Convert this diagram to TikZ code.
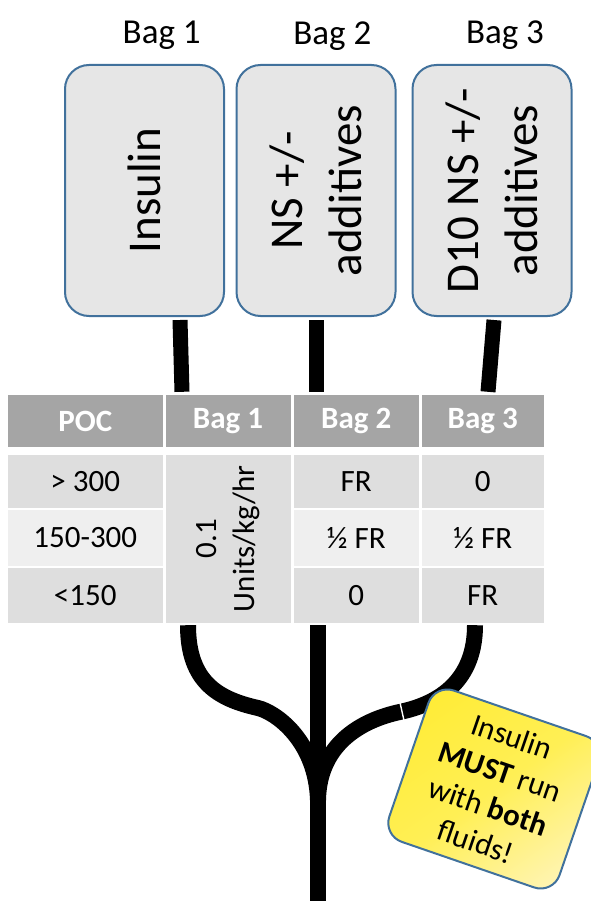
\documentclass[tikz,border=0pt]{standalone}
\usepackage{fontspec}
\setmainfont{Carlito}
\usetikzlibrary{calc}

\definecolor{bagfill}{HTML}{E6E6E6}
\definecolor{bagline}{HTML}{41719C}
\definecolor{headfill}{HTML}{A5A5A5}
\definecolor{banddark}{HTML}{DEDEDE}
\definecolor{bandlight}{HTML}{EFEFEF}
\definecolor{noteA}{HTML}{FFEC38}
\definecolor{noteB}{HTML}{FFEF55}
\definecolor{noteC}{HTML}{FFF4AE}

\begin{document}
\begin{tikzpicture}[x=1pt,y=-1pt,
  baglabel/.style={anchor=base, inner sep=0pt, font=\fontsize{35}{42}\selectfont},
  bagbox/.style={draw=bagline, line width=2pt, fill=bagfill, rounded corners=24pt,
    rotate=90, minimum width=251pt, minimum height=159pt, inner sep=0pt,
    align=center, font=\fontsize{47}{59}\selectfont},
  cell/.style={inner sep=0pt, align=center, font=\fontsize{31}{38}\selectfont},
  headcell/.style={cell, fill=headfill, text=white, minimum height=52pt,
    font=\fontsize{31}{38}\selectfont\bfseries},
  darkcell/.style={cell, fill=banddark},
  lightcell/.style={cell, fill=bandlight},
  feed/.style={line width=15pt, line cap=butt, black},
  tube/.style={line width=16pt, line cap=butt, black},
  seam/.style={white, line width=1.4pt},
  note/.style={draw=bagline, line width=2pt, rounded corners=20pt,
    top color=noteA, bottom color=noteC, middle color=noteB, shading angle=35,
    minimum width=180pt, minimum height=160pt, inner sep=0pt, align=center,
    font=\fontsize{31}{37}\selectfont}
]
\useasboundingbox (0,0) rectangle (590,901);

% bag labels
\node[baglabel] (lab1) at (161.7,43.3) {Bag 1};
\node[baglabel] (lab2) at (332.3,45.0) {Bag 2};
\node[baglabel] (lab3) at (505.0,43.8) {Bag 3};

% the three bags
\node[bagbox] (b1) at (144.5,190.5) {Insulin};
\node[bagbox] (b2) at (316,190.5) {NS +/-\\additives};
\node[bagbox] (b3) at (492,190.5) {D10 NS +/-\\additives};

% dosing table: header row
\node[headcell, minimum width=154.5pt] (h0) at (85.25,421) {POC};
\node[headcell, minimum width=125pt]   (h1) at (228,421) {Bag 1};
\node[headcell, minimum width=125.5pt] (h2) at (356.25,421) {Bag 2};
\node[headcell, minimum width=121.5pt] (h3) at (482.75,421) {Bag 3};

% POC column
\node[darkcell,  minimum width=154.5pt, minimum height=52.7pt] (r1c0) at (85.25,481.35) {> 300};
\node[lightcell, minimum width=154.5pt, minimum height=55.4pt] (r2c0) at (85.25,538) {150-300};
\node[darkcell,  minimum width=154.5pt, minimum height=54.4pt] (r3c0) at (85.25,595.5) {<150};

% insulin rate, spanning all rows
\node[darkcell, rotate=90, minimum width=167.7pt, minimum height=125pt] (mid) at (228,538.85) {0.1\\Units/kg/hr};

% Bag 2 column
\node[darkcell,  minimum width=125.5pt, minimum height=52.7pt] (r1c2) at (356.25,481.35) {FR};
\node[lightcell, minimum width=125.5pt, minimum height=55.4pt] (r2c2) at (356.25,538) {½ FR};
\node[darkcell,  minimum width=125.5pt, minimum height=54.4pt] (r3c2) at (356.25,595.5) {0};

% Bag 3 column
\node[darkcell,  minimum width=121.5pt, minimum height=52.7pt] (r1c3) at (482.75,481.35) {0};
\node[lightcell, minimum width=121.5pt, minimum height=55.4pt] (r2c3) at (482.75,538) {½ FR};
\node[darkcell,  minimum width=121.5pt, minimum height=54.4pt] (r3c3) at (482.75,595.5) {FR};

% feed lines from the bags into the table
\draw[feed] ($(b1.west)+(35.5,3)$) -- ($(h1.north)+(-46,-3)$);
\draw[feed] ($(b2.west)+(0,3)$) -- ($(h2.north)+(-40.25,-3)$);
\draw[feed] ($(b3.west)+(2,3)$) -- ($(h3.north)+(5.25,-3)$);

% tubing below the table, joining into one line
\coordinate (lt) at ($(mid.west)+(-40,2.3)$);
\coordinate (ct) at ($(r3c2.south)+(-38.25,2.3)$);
\coordinate (rt) at ($(r3c3.south)+(-7.75,2.3)$);
\coordinate (lj) at (258,708);
\coordinate (rj) at (402,711.5);
\coordinate (mg) at (318,800);
\coordinate (out) at (318,901);

\draw[tube] (ct) -- (out);
\draw[tube] (lt) .. controls (188,682) and (218,699) .. (lj)
               .. controls (275,712) and (316,740) .. (mg);
\draw[tube] (rt) .. controls (475,680) and (440,703) .. (rj)
               .. controls (360,720) and (319,745) .. (mg);
\draw[seam] ($(rj)+(-2,-9)$) -- ($(rj)+(2,9)$);

% reminder note
\node[note, rotate=-19] (nt) at (494,789)
  {Insulin\\\textbf{MUST} run\\with \textbf{both}\\fluids!};
\end{tikzpicture}
\end{document}
